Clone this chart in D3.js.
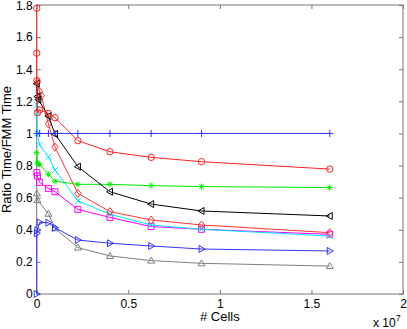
<!DOCTYPE html>
<html>
<head>
<meta charset="utf-8">
<script src="https://cdn.jsdelivr.net/npm/d3@7"></script>
<style>
  body { margin: 0; background: #fff; }
  text { font-family: "Liberation Sans", Arial, sans-serif; fill: #000; }
</style>
</head>
<body>
<div id="chart"></div>
<script>
// Number of cells for each run (shared x grid, null = no point in that run)
const cells = [625, 2500, 10000, 40000, 90000, 160000, 250000, 640000, 1000000, 2250000, 4000000, 6250000, 9000000, 16000000];

// Ratio time / FMM time, one array per method
const ratioPlus     = [null, 1.00, null, null, null, 1.00, null, 1.00, 1.00, 1.00, 1.00, 1.00, 1.00, 1.00];
const ratioCircle   = [1.78, 1.50, 1.33, 1.13, null, 1.146, null, 1.125, 1.098, 0.955, 0.886, 0.851, 0.824, 0.778];
const ratioDiamond  = [null, null, null, 1.32, null, 1.26, 1.235, 1.06, 0.915, 0.627, 0.513, 0.461, 0.430, 0.382];
const ratioLeftTri  = [null, 1.31, null, 1.23, 1.21, null, null, 1.108, 0.996, 0.793, 0.637, 0.560, 0.517, 0.486];
const ratioStar     = [null, 0.88, null, 0.818, null, 0.807, null, 0.745, 0.703, 0.683, 0.683, 0.675, 0.669, 0.663];
const ratioCross    = [null, 1.177, 1.13, 1.00, null, 0.928, null, 0.855, 0.772, 0.580, 0.497, 0.430, 0.403, 0.361];
const ratioSquare   = [null, null, 0.757, 0.735, null, 0.695, null, 0.658, 0.637, 0.527, 0.477, 0.420, 0.403, 0.372];
const ratioUpTri    = [null, null, 0.627, 0.585, null, null, null, 0.500, 0.409, 0.289, 0.237, 0.208, 0.191, 0.174];
const ratioRightTri = [0.00, null, 0.378, 0.398, null, 0.446, null, 0.444, 0.413, 0.336, 0.316, 0.299, 0.280, 0.268];

// Axis ticks
const xTicks = [0, 5000000, 10000000, 15000000, 20000000];
const yTicks = [0, 0.2, 0.4, 0.6, 0.8, 1, 1.2, 1.4, 1.6, 1.8];

// Series table: values + how each one is drawn
let series = [
	{ values: ratioUpTri,    color: "#808080", marker: "up" },
	{ values: ratioRightTri, color: "#3333ff", marker: "right" },
	{ values: ratioSquare,   color: "#ff00ff", marker: "square" },
	{ values: ratioCross,    color: "#00e5ff", marker: "x" },
	{ values: ratioDiamond,  color: "#ff3333", marker: "diamond" },
	{ values: ratioStar,     color: "#00ee00", marker: "star" },
	{ values: ratioLeftTri,  color: "#000000", marker: "left" },
	{ values: ratioCircle,   color: "#ff2222", marker: "circle" },
	{ values: ratioPlus,     color: "#3333ff", marker: "plus" }
];

let width = 407, height = 329;
let plotLeft = 36.7, plotRight = 403, plotTop = 5, plotBottom = 294;

let svg = d3.select("#chart")
	.append("svg")
	.attr("width", width)
	.attr("height", height);

let x = d3.scaleLinear().domain([0, 20000000]).range([plotLeft, plotRight]);
let y = d3.scaleLinear().domain([0, 1.8]).range([plotBottom, plotTop]);

// Marker shapes, roughly like the MATLAB ones
function markerPath(type) {
	switch (type) {
		case "circle":
			return "M-3.2,0A3.2,3.2 0 1,0 3.2,0A3.2,3.2 0 1,0 -3.2,0Z";
		case "plus":
			return "M-3.5,0H3.5M0,-3.5V3.5";
		case "x":
			return "M-3,-3L3,3M-3,3L3,-3";
		case "star":
			return "M-3,0H3M0,-3V3M-2.2,-2.2L2.2,2.2M-2.2,2.2L2.2,-2.2";
		case "up":
			return "M0,-3.5L3.5,2.5L-3.5,2.5Z";
		case "left":
			return "M-3.5,0L2.5,-3.5L2.5,3.5Z";
		case "right":
			return "M3.5,0L-2.5,-3.5L-2.5,3.5Z";
		case "diamond":
			return "M0,-4L3.2,0L0,4L-3.2,0Z";
		case "square":
			return "M-3,-3H3V3H-3Z";
	}
}

// Axes: ticks pointing inward on all four sides
let fmt = d3.format("~g");

svg.append("g")
	.attr("transform", "translate(0," + plotBottom + ")")
	.call(d3.axisBottom(x).tickValues(xTicks).tickSizeInner(-4).tickSizeOuter(0).tickPadding(5)
		.tickFormat(function (d) { return fmt(d / 1e7); }));

svg.append("g")
	.attr("transform", "translate(0," + plotTop + ")")
	.call(d3.axisTop(x).tickValues(xTicks).tickSizeInner(-4).tickSizeOuter(0).tickFormat(""));

let yAxis = svg.append("g")
	.attr("transform", "translate(" + plotLeft + ",0)")
	.call(d3.axisLeft(y).tickValues(yTicks).tickSizeInner(-4).tickSizeOuter(0).tickPadding(4)
		.tickFormat(fmt));

// keep the top label (1.8) just inside the picture
yAxis.selectAll(".tick text")
	.filter(function (d) { return d === 1.8; })
	.attr("dy", "0.4em");

svg.append("g")
	.attr("transform", "translate(" + plotRight + ",0)")
	.call(d3.axisRight(y).tickValues(yTicks).tickSizeInner(-4).tickSizeOuter(0).tickFormat(""));

svg.selectAll(".domain").remove();
svg.selectAll(".tick line").attr("stroke", "#777");
svg.selectAll(".tick text")
	.style("font-size", "12px")
	.style("font-family", "'Liberation Sans', Arial, sans-serif")
	.attr("fill", "#000");

// Box around the plot
svg.append("rect")
	.attr("x", plotLeft)
	.attr("y", plotTop)
	.attr("width", plotRight - plotLeft)
	.attr("height", plotBottom - plotTop)
	.attr("fill", "none")
	.attr("stroke", "#777")
	.attr("stroke-width", 1);

// Lines and markers
let line = d3.line()
	.x(function (d) { return x(d.c); })
	.y(function (d) { return y(d.v); });

series.forEach(function (s) {
	let pts = cells.map(function (c, i) { return { c: c, v: s.values[i] }; })
		.filter(function (d) { return d.v !== null; });

	svg.append("path")
		.datum(pts)
		.attr("d", line)
		.attr("fill", "none")
		.attr("stroke", s.color)
		.attr("stroke-width", 1);

	svg.selectAll(null)
		.data(pts)
		.enter().append("path")
		.attr("transform", function (d) { return "translate(" + x(d.c) + "," + y(d.v) + ")"; })
		.attr("d", markerPath(s.marker))
		.attr("fill", "none")
		.attr("stroke", s.color)
		.attr("stroke-width", 1);
});

// Axis labels
svg.append("text")
	.attr("x", (plotLeft + plotRight) / 2)
	.attr("y", 321)
	.attr("text-anchor", "middle")
	.style("font-size", "13px")
	.text("# Cells");

svg.append("text")
	.attr("transform", "translate(11," + (plotTop + plotBottom) / 2 + ") rotate(-90)")
	.attr("text-anchor", "middle")
	.style("font-size", "13px")
	.text("Ratio Time/FMM Time");

// Exponent note under the x axis
let expo = svg.append("text")
	.attr("x", 373)
	.attr("y", 327)
	.style("font-size", "12px");
expo.append("tspan").text("x 10");
expo.append("tspan")
	.attr("dy", -6)
	.style("font-size", "9px")
	.text("7");
</script>
</body>
</html>
